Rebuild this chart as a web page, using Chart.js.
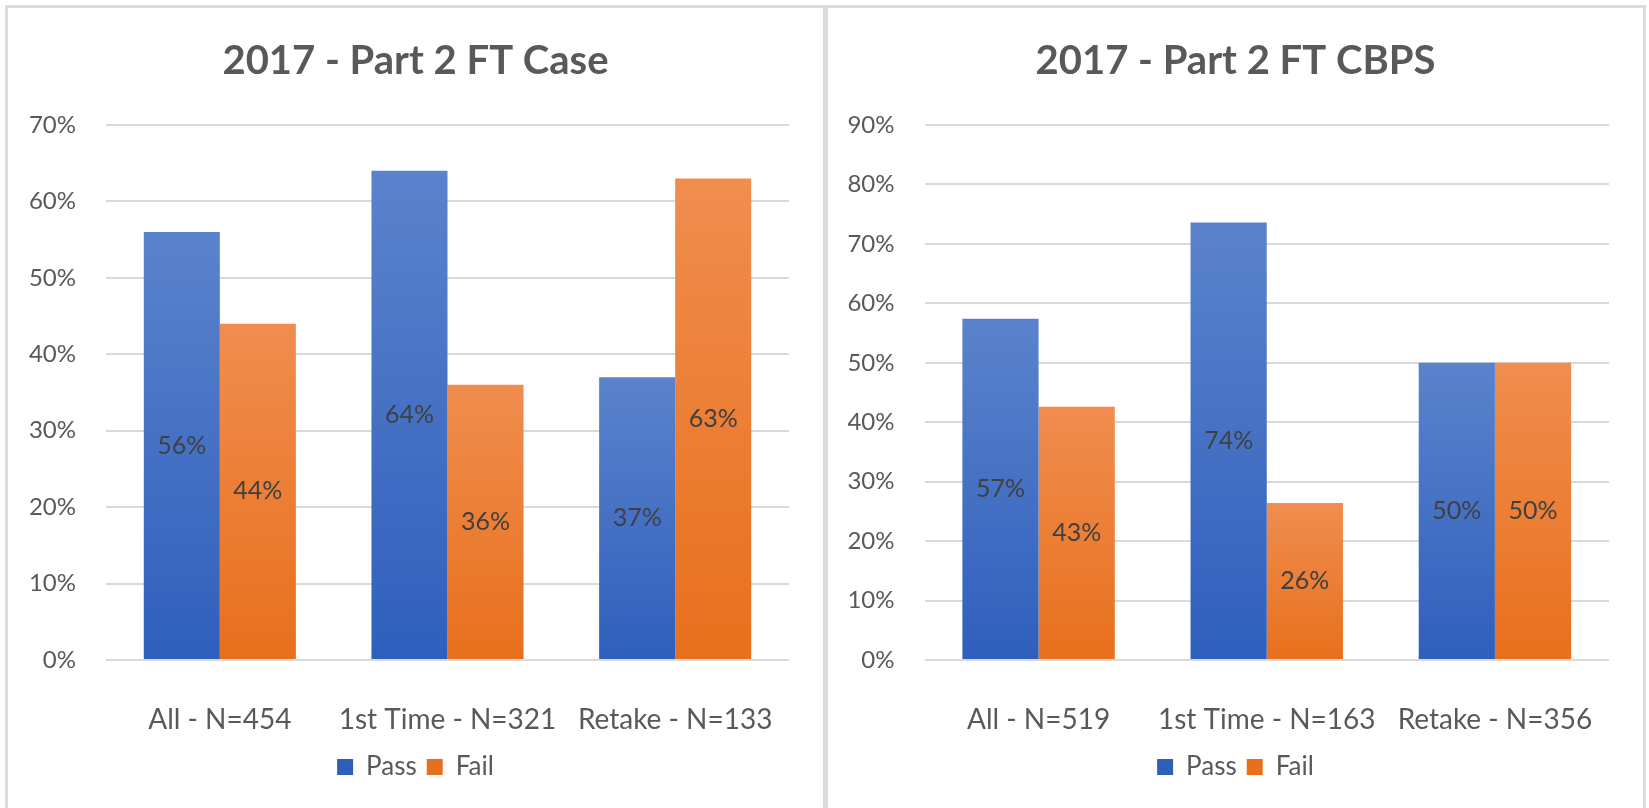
<!DOCTYPE html>
<html>
<head>
<meta charset="utf-8">
<title>2017 - Part 2 FT</title>
<script src="https://cdn.jsdelivr.net/npm/chart.js@4.4.1/dist/chart.umd.min.js"></script>
<style>
  html, body { margin: 0; padding: 0; background: #fff; }
  body { width: 1649px; height: 808px; position: relative; overflow: hidden; }
  .panel { position: absolute; border: 3px solid #dcdcdc; box-sizing: border-box; }
  canvas { position: absolute; }
</style>
</head>
<body>
<div class="panel" style="left:5px; top:5px; width:821px; height:806px;"></div>
<div class="panel" style="left:825px; top:5px; width:821px; height:806px;"></div>
<canvas id="chartCase" width="815" height="797" style="left:8px; top:8px;"></canvas>
<canvas id="chartCbps" width="813" height="797" style="left:829px; top:8px;"></canvas>

<script>
// ====== DATA ======
const caseTitle = '2017 - Part 2 FT Case';
const caseCategories = ['All - N=454', '1st Time - N=321', 'Retake - N=133'];
const casePass = [56, 64, 37];
const caseFail = [44, 36, 63];
const caseYMax = 70;

const cbpsTitle = '2017 - Part 2 FT CBPS';
const cbpsCategories = ['All - N=519', '1st Time - N=163', 'Retake - N=356'];
const cbpsPass = [57.4, 73.6, 50];
const cbpsFail = [42.6, 26.4, 50];
const cbpsYMax = 90;

const seriesNames = ['Pass', 'Fail'];
// ==================

const TEXT = '#595959';
const GRID = '#d9d9d9';
Chart.defaults.font.family = 'Lato, "Open Sans", sans-serif';
Chart.defaults.color = TEXT;

// gradiente vertical por barra (estilo Excel)
function barFill(top, bottom, solid){
  return (c) => {
    if (c.type !== 'data' || !c.chart.chartArea) return solid;
    const y = c.chart.scales.y;
    const y0 = y.getPixelForValue(c.raw), y1 = y.getPixelForValue(0);
    const g = c.chart.ctx.createLinearGradient(0, y0, 0, y1);
    g.addColorStop(0, top);
    g.addColorStop(1, bottom);
    return g;
  };
}

// rótulos no centro das barras
const barLabels = {
  id: 'barLabels',
  afterDatasetsDraw(chart){
    const ctx = chart.ctx;
    ctx.save();
    ctx.font = '25px Lato, "Open Sans", sans-serif';
    ctx.fillStyle = '#404040';
    ctx.textAlign = 'center';
    ctx.textBaseline = 'middle';
    chart.data.datasets.forEach((ds, i) => {
      chart.getDatasetMeta(i).data.forEach((bar, j) => {
        ctx.fillText(Math.round(ds.data[j]) + '%', bar.x, (bar.y + bar.base) / 2);
      });
    });
    ctx.restore();
  }
};

function makeChart(id, title, categories, pass, fail, yMax, axisW, rightW){
  return new Chart(document.getElementById(id), {
    type: 'bar',
    data: {
      labels: categories,
      datasets: [
        { label: seriesNames[0], data: pass,
          backgroundColor: barFill('#5b83cc', '#2f5fbd', '#4472c4'),
          barPercentage: 1, categoryPercentage: 0.668 },
        { label: seriesNames[1], data: fail,
          backgroundColor: barFill('#f08d4f', '#e8701c', '#ed7d31'),
          barPercentage: 1, categoryPercentage: 0.668 }
      ]
    },
    options: {
      responsive: false,
      animation: false,
      layout: { padding: { left: 0, right: 0, top: 0, bottom: 15 } },
      scales: {
        y: {
          min: 0, max: yMax,
          ticks: { stepSize: 10, padding: 30, color: TEXT, font: { size: 24 },
                   callback: v => v + '%' },
          grid: { color: GRID, lineWidth: 2, drawTicks: false },
          border: { display: false },
          afterFit: s => { s.width = axisW; }
        },
        // eixo vazio à direita, só para reservar a margem
        yPad: {
          position: 'right',
          ticks: { display: false },
          grid: { display: false, drawTicks: false },
          border: { display: false },
          afterFit: s => { s.width = rightW; }
        },
        x: {
          ticks: { padding: 43, color: TEXT, font: { size: 28 } },
          grid: { display: false, drawTicks: false },
          border: { display: false },
          afterFit: s => { s.height = 84; }
        }
      },
      plugins: {
        title: {
          display: true, text: title, color: TEXT,
          font: { size: 40, weight: 'bold', lineHeight: 1.2 },
          padding: { top: 29, bottom: 40 }
        },
        legend: {
          position: 'bottom',
          labels: { boxWidth: 16, boxHeight: 16, padding: 10, color: TEXT, font: { size: 26 } }
        },
        tooltip: { enabled: false }
      }
    },
    plugins: [barLabels]
  });
}

makeChart('chartCase', caseTitle, caseCategories, casePass, caseFail, caseYMax, 98, 34);
makeChart('chartCbps', cbpsTitle, cbpsCategories, cbpsPass, cbpsFail, cbpsYMax, 95.5, 33);
</script>
</body>
</html>
